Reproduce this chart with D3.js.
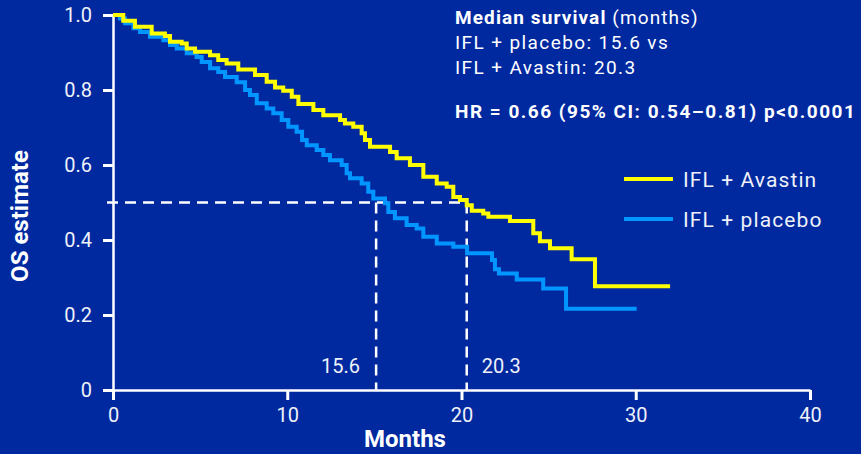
<!DOCTYPE html>
<html>
<head>
<meta charset="utf-8">
<script src="https://cdn.jsdelivr.net/npm/d3@7"></script>
<style>
  html, body { margin: 0; padding: 0; background: #0029a0; }
  svg { display: block; }
  text { font-family: Roboto, "Noto Sans", sans-serif; }
</style>
</head>
<body>
<svg id="chart" width="861" height="454"></svg>
<script>
// ---- Data ----
const avastinMonths = [0,0.59,1.26,2.22,2.98,3.27,3.94,4.23,4.71,5.57,6.04,6.52,7.19,8.15,8.82,9.30,9.77,10.26,10.64,11.50,12.07,13.03,13.31,13.79,14.27,14.46,14.75,15.90,16.28,17.04,17.81,18.58,19.15,19.53,19.91,20.30,20.59,21.25,21.54,22.78,24.12,24.50,25.08,26.32,27.66,31.97];
const avastinSurv = [1.0,0.985,0.969,0.951,0.944,0.929,0.924,0.911,0.902,0.893,0.880,0.871,0.855,0.840,0.822,0.807,0.798,0.782,0.763,0.747,0.733,0.72,0.711,0.702,0.685,0.667,0.649,0.635,0.618,0.600,0.569,0.551,0.542,0.515,0.507,0.493,0.478,0.471,0.462,0.451,0.418,0.397,0.378,0.349,0.277,0.277];

const placeboMonths = [0,0.40,0.69,1.17,1.55,2.12,2.89,3.27,3.66,4.23,4.80,5.09,5.57,6.04,6.43,7.10,7.58,7.86,8.25,8.82,9.20,9.68,10.06,10.54,10.85,11.12,11.69,12.07,12.45,13.12,13.41,13.60,14.27,14.65,14.94,15.61,15.80,16.18,16.85,17.43,17.81,18.58,19.53,20.32,21.75,21.92,22.15,23.17,24.69,26.00,30.05];
const placeboSurv = [1.0,0.991,0.978,0.965,0.955,0.942,0.933,0.920,0.911,0.898,0.888,0.875,0.858,0.848,0.835,0.821,0.800,0.787,0.765,0.751,0.738,0.720,0.702,0.689,0.667,0.653,0.640,0.627,0.613,0.600,0.578,0.565,0.551,0.529,0.511,0.498,0.475,0.458,0.440,0.431,0.409,0.391,0.382,0.365,0.347,0.322,0.311,0.295,0.271,0.217,0.217];

const seriesNames = ["IFL + Avastin", "IFL + placebo"];
const seriesColors = ["#ffff00", "#0096ff"];

const xTicks = [0, 10, 20, 30, 40];
const yTicks = [0, 0.2, 0.4, 0.6, 0.8, 1.0];

const medianLevel = 0.5;
const medianMarkX = [15.1, 20.3];
const medianLabels = ["15.6", "20.3"];

const infoLines = ["IFL + placebo: 15.6 vs", "IFL + Avastin: 20.3"];
const hrText = "HR = 0.66 (95% CI: 0.54\u20130.81) p<0.0001";

// ---- Layout ----
const svg = d3.select("#chart");
const W = 861, H = 454;
svg.append("rect").attr("width", W).attr("height", H).attr("fill", "#0029a0");

const x = d3.scaleLinear().domain([0, 40]).range([113, 810]);
const y = d3.scaleLinear().domain([0, 1]).range([390, 15]);

const axisColor = "#ffffff";
const labelColor = "#eef1f8";

// Dashed median reference lines
const dash = "11,7";
svg.append("line")
  .attr("x1", x(0) - 6).attr("x2", x(medianMarkX[1]))
  .attr("y1", y(medianLevel)).attr("y2", y(medianLevel))
  .attr("stroke", "#ffffff").attr("stroke-width", 2.5)
  .attr("stroke-dasharray", dash);
svg.selectAll("line.vmed").data(medianMarkX).join("line")
  .attr("class", "vmed")
  .attr("x1", d => x(d)).attr("x2", d => x(d))
  .attr("y1", y(medianLevel)).attr("y2", y(0))
  .attr("stroke", "#ffffff").attr("stroke-width", 2.5)
  .attr("stroke-dasharray", dash);

svg.selectAll("text.medlab").data(medianLabels).join("text")
  .attr("class", "medlab")
  .attr("x", (d, i) => i === 0 ? x(medianMarkX[i]) - 16 : x(medianMarkX[i]) + 15)
  .attr("y", 373)
  .attr("text-anchor", (d, i) => i === 0 ? "end" : "start")
  .attr("fill", labelColor)
  .attr("font-size", 20)
  .text(d => d);

// Axes
const yAxis = d3.axisLeft(y).tickValues(yTicks).tickSize(10).tickSizeOuter(0).tickPadding(11)
  .tickFormat(d => d === 0 ? "0" : d3.format(".1f")(d));
const gy = svg.append("g").attr("transform", `translate(${x(0)},0)`).call(yAxis);
const xAxis = d3.axisBottom(x).tickValues(xTicks).tickSize(10).tickSizeOuter(0).tickPadding(8);
const gx = svg.append("g").attr("transform", `translate(0,${y(0)})`).call(xAxis);

[gx, gy].forEach(g => {
  g.select(".domain").attr("stroke", axisColor).attr("stroke-width", 2.5);
  g.selectAll(".tick line").attr("stroke", axisColor).attr("stroke-width", 3);
  g.selectAll(".tick text").attr("fill", labelColor).attr("font-size", 20)
    .attr("font-family", "Roboto, sans-serif");
});

// Curves
const line = d3.line().x(d => x(d[0])).y(d => y(d[1])).curve(d3.curveStepAfter);
const placeboData = d3.zip(placeboMonths, placeboSurv);
const avastinData = d3.zip(avastinMonths, avastinSurv);

svg.append("path").datum(placeboData)
  .attr("d", line).attr("fill", "none")
  .attr("stroke", seriesColors[1]).attr("stroke-width", 4);
svg.append("path").datum(avastinData)
  .attr("d", line).attr("fill", "none")
  .attr("stroke", seriesColors[0]).attr("stroke-width", 4);

// Axis titles
svg.append("text")
  .attr("x", 405).attr("y", 447)
  .attr("text-anchor", "middle")
  .attr("fill", "#ffffff").attr("font-weight", "bold").attr("font-size", 24)
  .text("Months");
svg.append("text")
  .attr("transform", "translate(28,216) rotate(-90)")
  .attr("text-anchor", "middle")
  .attr("fill", "#ffffff").attr("font-weight", "bold").attr("font-size", 24)
  .text("OS estimate");

// Info text
const info = svg.append("g").attr("fill", "#ffffff");
const t0 = info.append("text").attr("x", 455).attr("y", 24).attr("font-size", 19).attr("letter-spacing", 1.1);
t0.append("tspan").attr("font-weight", "bold").text("Median survival");
t0.append("tspan").text(" (months)");
info.selectAll("text.il").data(infoLines).join("text")
  .attr("class", "il")
  .attr("x", 455).attr("y", (d, i) => 49 + i * 25)
  .attr("font-size", 19).attr("letter-spacing", 1.4)
  .text(d => d);
info.append("text").attr("x", 455).attr("y", 118)
  .attr("font-size", 19).attr("font-weight", "bold").attr("letter-spacing", 1.5)
  .text(hrText);

// Legend
const legend = svg.append("g");
seriesNames.forEach((name, i) => {
  const ly = 179 + i * 40;
  legend.append("line")
    .attr("x1", 624).attr("x2", 673).attr("y1", ly).attr("y2", ly)
    .attr("stroke", seriesColors[i]).attr("stroke-width", 4);
  legend.append("text")
    .attr("x", 683).attr("y", ly + 8)
    .attr("fill", labelColor).attr("font-size", 21).attr("letter-spacing", 1.1)
    .text(name);
});
</script>
</body>
</html>
